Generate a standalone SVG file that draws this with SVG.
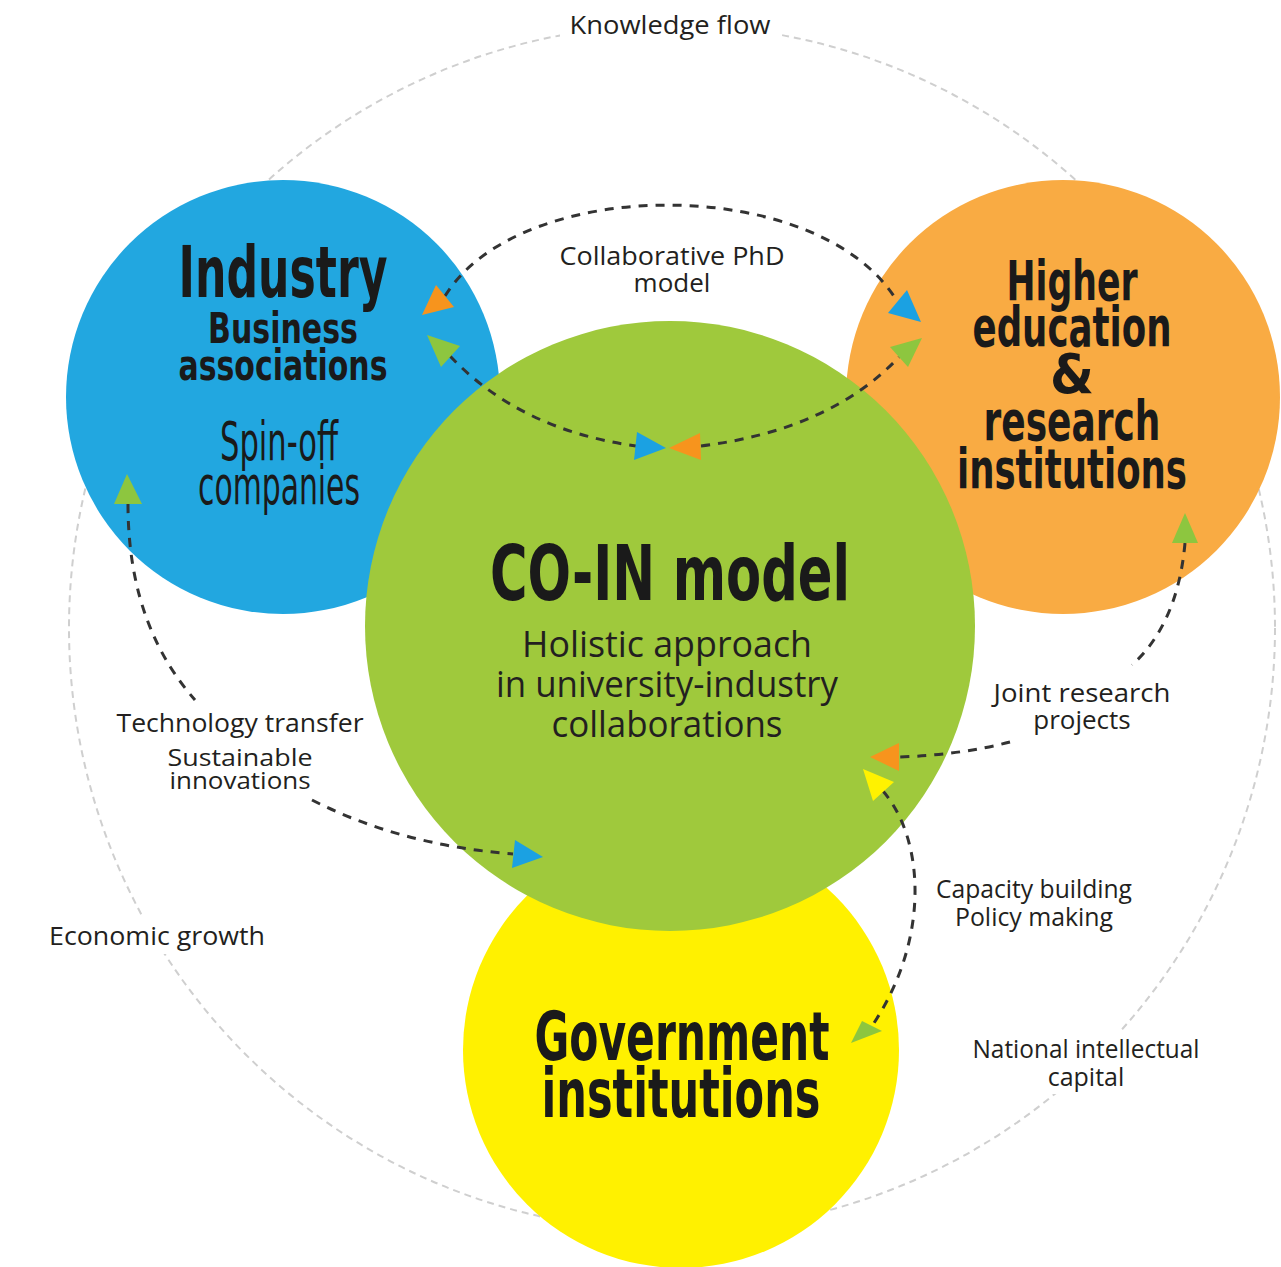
<svg xmlns="http://www.w3.org/2000/svg" width="1281" height="1267" viewBox="0 0 1281 1267">
<style>
.outer{fill:none;stroke:#cfcfcf;stroke-width:2;stroke-dasharray:7 5}
.conn{fill:none;stroke:#333;stroke-width:3;stroke-dasharray:9 8}
.lt{font-family:"Open Sans","Liberation Sans",sans-serif;fill:#231f20;text-anchor:middle}
.bd{font-family:"Liberation Sans Narrow","DejaVu Sans Condensed","Liberation Sans",sans-serif;font-weight:bold;fill:#1a1a1a;text-anchor:middle}
.md{font-family:"Liberation Sans Narrow","DejaVu Sans Condensed","Liberation Sans",sans-serif;font-weight:normal;fill:#1a1a1a;text-anchor:middle}
.aO{fill:#f7941d}.aG{fill:#8dc63f}.aB{fill:#1ba1e2}.aY{fill:#fff200}
</style>
<rect width="1281" height="1267" fill="#fff"/>
<circle class="outer" cx="672" cy="628" r="603"/>
<g id="labels-outer">
<rect x="560" y="8" width="222" height="36" fill="#fff"/>
<text class="lt" x="670" y="34" font-size="26" textLength="201" lengthAdjust="spacingAndGlyphs">Knowledge flow</text>
<rect x="44" y="918" width="226" height="36" fill="#fff"/>
<text class="lt" x="157" y="945" font-size="26" textLength="216" lengthAdjust="spacingAndGlyphs">Economic growth</text>
<rect x="966" y="1030" width="240" height="64" fill="#fff"/>
<text class="lt" x="1086" y="1058" font-size="25" textLength="227" lengthAdjust="spacingAndGlyphs">National intellectual</text>
<text class="lt" x="1086" y="1086" font-size="25">capital</text>
</g>
<g id="industry">
<circle cx="283" cy="397" r="217" fill="#22a7e0"/>
<text class="bd" x="283" y="297" font-size="72" textLength="209" lengthAdjust="spacingAndGlyphs">Industry</text>
<text class="bd" x="283" y="343" font-size="42" textLength="150" lengthAdjust="spacingAndGlyphs">Business</text>
<text class="bd" x="283" y="380" font-size="42" textLength="209" lengthAdjust="spacingAndGlyphs">associations</text>
<text class="md" x="279" y="460" font-size="54" textLength="118" lengthAdjust="spacingAndGlyphs">Spin-off</text>
<text class="md" x="279" y="504" font-size="54" textLength="162" lengthAdjust="spacingAndGlyphs">companies</text>
</g>
<g id="higher-education">
<circle cx="1063" cy="397" r="217" fill="#f9ab43"/>
<text class="bd" x="1072" y="300" font-size="56" textLength="131" lengthAdjust="spacingAndGlyphs">Higher</text>
<text class="bd" x="1072" y="346" font-size="56" textLength="199" lengthAdjust="spacingAndGlyphs">education</text>
<text class="bd" x="1072" y="393" font-size="56">&amp;</text>
<text class="bd" x="1072" y="440" font-size="56" textLength="177" lengthAdjust="spacingAndGlyphs">research</text>
<text class="bd" x="1072" y="488" font-size="56" textLength="230" lengthAdjust="spacingAndGlyphs">institutions</text>
</g>
<g id="government">
<circle cx="681" cy="1050" r="218" fill="#fff100"/>
<text class="bd" x="682" y="1060" font-size="68" textLength="295" lengthAdjust="spacingAndGlyphs">Government</text>
<text class="bd" x="681" y="1117" font-size="68" textLength="279" lengthAdjust="spacingAndGlyphs">institutions</text>
</g>
<g id="co-in">
<circle cx="670" cy="626" r="305" fill="#9fc93c"/>
<text class="bd" x="670" y="600" font-size="77" textLength="360" lengthAdjust="spacingAndGlyphs">CO-IN model</text>
<text class="lt" x="667" y="657" font-size="36" textLength="290" lengthAdjust="spacingAndGlyphs">Holistic approach</text>
<text class="lt" x="667" y="697" font-size="36" textLength="342" lengthAdjust="spacingAndGlyphs">in university-industry</text>
<text class="lt" x="667" y="737" font-size="36" textLength="231" lengthAdjust="spacingAndGlyphs">collaborations</text>
</g>
<g id="connectors">
<path class="conn" d="M445,296 C520,174 820,174 897,301"/>
<path class="conn" d="M450,356 Q520,430 636,446"/>
<path class="conn" d="M701,446 Q830,430 899,357"/>
<path class="conn" d="M128,504 C128,600 160,660 195,700"/>
<path class="conn" d="M312,800 Q400,845 513,854"/>
<path class="conn" d="M1185,543 C1180,600 1160,640 1132,665"/>
<path class="conn" d="M1010,742 Q960,755 899,757"/>
<path class="conn" d="M883,791 C925,840 930,940 872,1026"/>
<polygon class="aO" points="436,285 454,307 422,315"/>
<polygon class="aG" points="427,335 460,346 441,367"/>
<polygon class="aB" points="637,432 666,448 634,460"/>
<polygon class="aO" points="700,433 669,448 701,460"/>
<polygon class="aB" points="907,290 921,322 888,313"/>
<polygon class="aG" points="922,338 908,367 890,347"/>
<polygon class="aG" points="127,474 142,504 114,504"/>
<polygon class="aG" points="1185,513 1198,543 1172,543"/>
<polygon class="aB" points="515,840 543,857 512,868"/>
<polygon class="aO" points="899,743 899,771 870,757"/>
<polygon class="aY" points="863,769 894,782 873,801"/>
<polygon class="aG" points="862,1021 882,1031 851,1043"/>
</g>
<g id="connector-labels">
<text class="lt" x="672" y="265" font-size="26" textLength="225" lengthAdjust="spacingAndGlyphs">Collaborative PhD</text>
<text class="lt" x="672" y="292" font-size="26">model</text>
<text class="lt" x="240" y="732" font-size="26" textLength="247" lengthAdjust="spacingAndGlyphs">Technology transfer</text>
<text class="lt" x="240" y="766" font-size="24" textLength="145" lengthAdjust="spacingAndGlyphs">Sustainable</text>
<text class="lt" x="240" y="789" font-size="24" textLength="141" lengthAdjust="spacingAndGlyphs">innovations</text>
<text class="lt" x="1082" y="702" font-size="26" textLength="177" lengthAdjust="spacingAndGlyphs">Joint research</text>
<text class="lt" x="1082" y="729" font-size="26">projects</text>
<text class="lt" x="1034" y="898" font-size="26" textLength="196" lengthAdjust="spacingAndGlyphs">Capacity building</text>
<text class="lt" x="1034" y="926" font-size="26" textLength="158" lengthAdjust="spacingAndGlyphs">Policy making</text>
</g>
</svg>
